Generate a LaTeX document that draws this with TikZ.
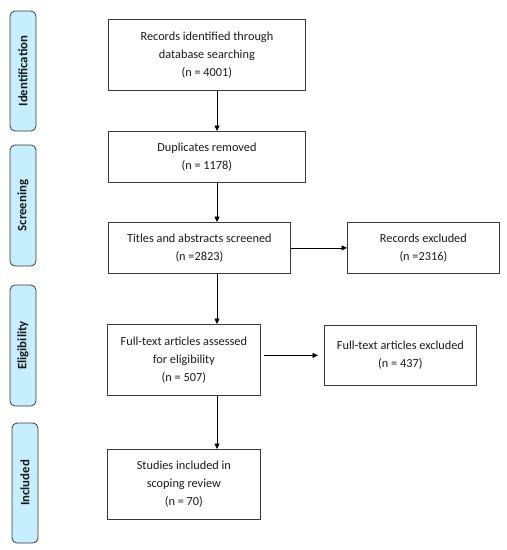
\documentclass[tikz,border=0pt]{standalone}
\usepackage{fontspec}
\setmainfont{Carlito}
\usetikzlibrary{arrows.meta}

\definecolor{phasefill}{HTML}{C6EEFC}
\definecolor{linegray}{HTML}{3A3A3A}
\definecolor{textgray}{HTML}{1A1A1A}

\tikzset{
  box/.style={rectangle, draw=linegray, line width=0.8pt, align=center, anchor=north west,
    text=textgray, font=\fontsize{12.3}{18}\selectfont, inner sep=0pt},
  phase/.style={rectangle, rounded corners=5pt, draw=linegray, line width=0.8pt, fill=phasefill,
    rotate=90, minimum height=26pt, text=textgray, font=\fontsize{12.8}{13}\selectfont\bfseries},
  arr/.style={-{Triangle[length=5.5pt,width=5pt]}, draw=black, line width=0.7pt},
}

\begin{document}
\begin{tikzpicture}[x=1pt,y=1pt]
  \useasboundingbox (0,0) rectangle (507,-550);

  \node(ident)[phase, minimum width=120pt] at (23,-71) {Identification};
  \node(screen)[phase, minimum width=121pt] at (23,-205.5) {Screening};
  \node(elig)[phase, minimum width=121pt] at (23,-345.5) {Eligibility};
  \node(incl)[phase, minimum width=120pt] at (25,-483) {Included};

  \coordinate(spine) at (217,0);

  \node(rec)[box, minimum width=197pt, minimum height=71pt] at (108,-19)
    {Records identified through\\database searching\\(n = 4001)};
  \node(dup)[box, minimum width=197pt, minimum height=51pt] at (108,-131)
    {Duplicates removed\\(n = 1178)};
  \node(tit)[box, minimum width=182pt, minimum height=51pt] at (108,-222)
    {Titles and abstracts screened\\(n =2823)};
  \node(exc1)[box, minimum width=152pt, minimum height=51pt] at (347,-222)
    {Records excluded\\(n =2316)};
  \node(full)[box, minimum width=153pt, minimum height=71pt] at (107,-324)
    {Full-text articles assessed\\for eligibility\\(n = 507)};
  \node(exc2)[box, minimum width=152pt, minimum height=60pt] at (324,-325)
    {Full-text articles excluded\\(n = 437)};
  \node(stud)[box, minimum width=153pt, minimum height=70pt] at (107,-449)
    {Studies included in\\scoping review\\(n = 70)};

  \draw[arr](rec.south -| spine)--(dup.north -| spine);
  \draw[arr](dup.south -| spine)--(tit.north -| spine);
  \draw[arr](tit.south -| spine)--(full.north -| spine);
  \draw[arr](full.south -| spine)--(stud.north -| spine);
  \draw[arr](tit.east)--(exc1.west);
  \draw[arr, shorten <=3pt, shorten >=6pt](full.east |- exc2.west)--(exc2.west);

\end{tikzpicture}
\end{document}
